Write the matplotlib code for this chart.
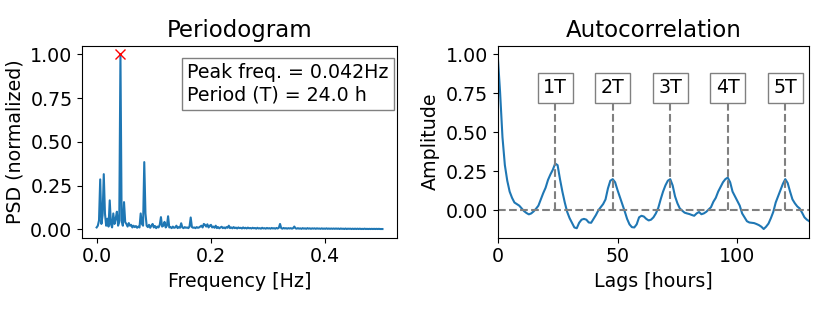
import numpy as np
import matplotlib
matplotlib.use("Agg")
import matplotlib.pyplot as plt

plt.rcParams["font.size"] = 13.7

# periodogram (frequency step 1/480 Hz)
psd = [
    0.010, 0.020, 0.050, 0.285, 0.030, 0.080, 0.315, 0.090, 0.020, 0.060,
    0.015, 0.165, 0.030, 0.010, 0.090, 0.030, 0.060, 0.100, 0.020, 0.040,
    1.000, 0.050, 0.020, 0.155, 0.040, 0.030, 0.015, 0.035, 0.020, 0.025,
    0.010, 0.020, 0.012, 0.018, 0.008, 0.015, 0.010, 0.090, 0.030, 0.020,
    0.384, 0.090, 0.020, 0.012, 0.025, 0.008, 0.020, 0.030, 0.010, 0.018,
    0.006, 0.015, 0.010, 0.025, 0.069, 0.015, 0.020, 0.042, 0.010, 0.020,
    0.074, 0.010, 0.012, 0.006, 0.015, 0.008, 0.010, 0.020, 0.006, 0.012,
    0.008, 0.034, 0.010, 0.006, 0.012, 0.008, 0.010, 0.006, 0.015, 0.067,
    0.012, 0.008, 0.010, 0.006, 0.012, 0.008, 0.010, 0.015, 0.020, 0.010,
    0.030, 0.025, 0.015, 0.028, 0.010, 0.020, 0.025, 0.010, 0.015, 0.008,
    0.020, 0.006, 0.012, 0.005, 0.010, 0.014, 0.006, 0.010, 0.005, 0.012,
    0.008, 0.020, 0.006, 0.010, 0.005, 0.012, 0.006, 0.009, 0.004, 0.010,
    0.006, 0.008, 0.004, 0.010, 0.005, 0.008, 0.004, 0.009, 0.005, 0.007,
    0.004, 0.008, 0.005, 0.007, 0.003, 0.008, 0.004, 0.006, 0.003, 0.008,
    0.004, 0.006, 0.003, 0.007, 0.004, 0.006, 0.003, 0.007, 0.004, 0.006,
    0.003, 0.007, 0.004, 0.008, 0.030, 0.006, 0.003, 0.007, 0.004, 0.006,
    0.003, 0.006, 0.004, 0.006, 0.003, 0.006, 0.015, 0.005, 0.003, 0.006,
    0.003, 0.005, 0.002, 0.006, 0.003, 0.005, 0.002, 0.006, 0.003, 0.005,
    0.002, 0.005, 0.003, 0.005, 0.002, 0.005, 0.003, 0.004, 0.002, 0.005,
    0.002, 0.004, 0.002, 0.005, 0.002, 0.004, 0.002, 0.004, 0.002, 0.004,
    0.002, 0.004, 0.002, 0.004, 0.001, 0.004, 0.002, 0.003, 0.001, 0.004,
    0.001, 0.003, 0.002, 0.003, 0.001, 0.003, 0.001, 0.003, 0.001, 0.003,
    0.001, 0.003, 0.001, 0.002, 0.001, 0.003, 0.001, 0.002, 0.001, 0.002,
    0.001, 0.002, 0.001, 0.002, 0.001, 0.002, 0.001, 0.002, 0.001, 0.001,
    0.001,
]
freq = np.arange(len(psd)) / 480.0
peak_freq = 1 / 24.0

# autocorrelation, one value per hour of lag
acf = [
    1.000, 0.760, 0.470, 0.290, 0.190, 0.120, 0.080, 0.050, 0.040, 0.030,
    0.013, -0.005, -0.017, -0.026, -0.020, -0.007, 0.010, 0.030, 0.070, 0.110,
    0.145, 0.195, 0.230, 0.260, 0.300, 0.290, 0.200, 0.120, 0.050, -0.010,
    -0.050, -0.080, -0.110, -0.115, -0.080, -0.060, -0.055, -0.060, -0.078, -0.080,
    -0.055, -0.030, 0.000, 0.020, 0.040, 0.070, 0.140, 0.190, 0.200, 0.180,
    0.130, 0.085, 0.040, -0.006, -0.055, -0.090, -0.108, -0.110, -0.090, -0.045,
    -0.035, -0.040, -0.055, -0.065, -0.060, -0.045, -0.020, 0.015, 0.070, 0.120,
    0.160, 0.190, 0.200, 0.160, 0.090, 0.045, 0.012, -0.002, -0.015, -0.020,
    -0.024, -0.030, -0.035, -0.020, -0.011, -0.025, -0.020, -0.010, 0.005, 0.020,
    0.055, 0.080, 0.120, 0.150, 0.180, 0.200, 0.210, 0.180, 0.120, 0.090,
    0.060, 0.030, -0.020, -0.045, -0.070, -0.078, -0.080, -0.082, -0.088, -0.095,
    -0.105, -0.120, -0.105, -0.085, -0.050, -0.010, 0.050, 0.090, 0.130, 0.170,
    0.200, 0.175, 0.120, 0.070, 0.045, 0.025, 0.012, -0.015, -0.045, -0.060,
    -0.070,
]
lags = np.arange(len(acf))
period_lags = [24, 48, 72, 96, 120]
period_labels = ["1T", "2T", "3T", "4T", "5T"]

fig = plt.figure(figsize=(8.3, 3.12), dpi=100)
ax1 = fig.add_axes([0.0992, 0.238, 0.3788, 0.6154])
ax2 = fig.add_axes([0.5996, 0.238, 0.3754, 0.6154])

ax1.plot(freq, psd, color="#1f77b4", lw=1.5)
ax1.plot(peak_freq, 1.0, "x", color="red", ms=7)
ax1.set_title("Periodogram")
ax1.set_xlabel("Frequency [Hz]")
ax1.set_ylabel("PSD (normalized)")
ax1.set_yticks([0, 0.25, 0.5, 0.75, 1.0])
ax1.text(0.974, 0.91, "Peak freq. = %.3fHz\nPeriod (T) = %.1f h" % (peak_freq, 1 / peak_freq),
         transform=ax1.transAxes, ha="right", va="top", multialignment="left",
         bbox=dict(facecolor="white", edgecolor="gray"))

ax2.plot(lags, acf, color="#1f77b4", lw=1.5)
ax2.axhline(0, color="gray", ls="--", lw=1.5)
for lag, lab in zip(period_lags, period_labels):
    ax2.plot([lag, lag], [0, 0.75], color="gray", ls="--", lw=1.5)
    ax2.text(lag, 0.785, lab, ha="center", va="center",
             bbox=dict(facecolor="white", edgecolor="gray"))
ax2.set_xlim(0, 130)
ax2.set_title("Autocorrelation")
ax2.set_xlabel("Lags [hours]")
ax2.set_ylabel("Amplitude")
ax2.set_yticks([0, 0.25, 0.5, 0.75, 1.0])

fig.savefig("out.png", dpi=100)
